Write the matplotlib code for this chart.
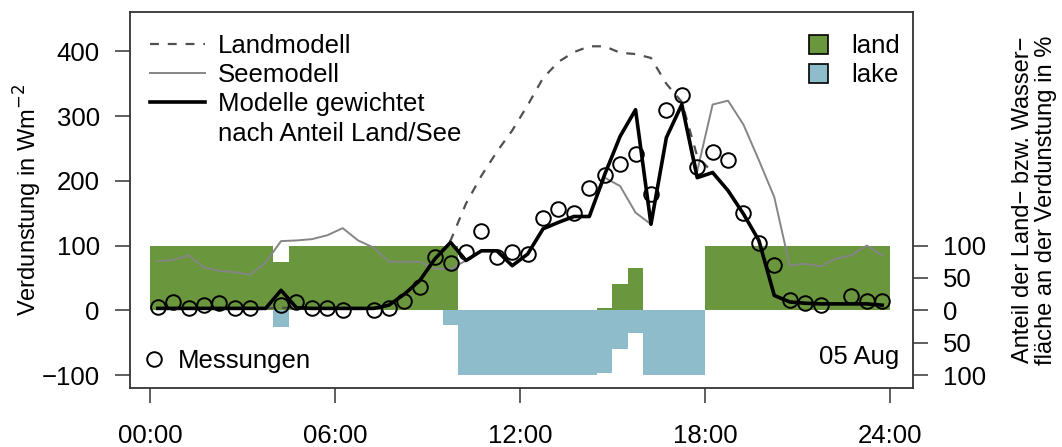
import numpy as np
import matplotlib.pyplot as plt
from matplotlib.lines import Line2D
from matplotlib.patches import Patch

plt.rcParams['font.family'] = ['Liberation Sans', 'DejaVu Sans']

# half-hourly time steps (centre of each interval, hours)
hours = np.arange(0.25, 24, 0.5)

# measured evaporation (W m-2), nan = missing
messungen = [5, 13, 3, 9, 11, 3, 3, np.nan, 8, 13, 4, 3, 1, np.nan, 1, 4,
             15, 36, 83, 73, 90, 122, 83, 90, 87, 143, 156, 150, 189, 209, 226, 242,
             180, 309, 332, 222, 244, 232, 151, 104, 70, 16, 12, 9, np.nan, 22, 14, 14]

landmodell = [3, 3, 3, 3, 3, 3, 3, 3, 4, 4, 3, 3, 3, 3, 3, 8,
              25, 46, 80, 108, 165, 208, 245, 278, 317, 359, 384, 399, 408, 408, 398, 396,
              390, 350, 322, 238, 213, 185, 149, 108, 23, 13, 11, 10, 10, 10, 10, 8]

seemodell = [76, 78, 85, 66, 61, 59, 55, 74, 107, 108, 110, 116, 127, 108, 97, 75,
             75, 75, 64, 64, 77, 92, 92, 69, 87, 126, 136, 145, 145, 205, 192, 151,
             133, 267, 318, 215, 318, 324, 287, 232, 175, 69, 72, 68, 80, 85, 100, 85]

gewichtet = [3, 3, 3, 3, 3, 3, 3, 3, 31, 4, 3, 3, 3, 3, 3, 8,
             25, 46, 80, 105, 77, 92, 92, 69, 87, 126, 136, 145, 145, 210, 269, 310,
             133, 267, 318, 205, 213, 185, 149, 108, 23, 13, 11, 10, 10, 10, 10, 8]

# share of land / lake in the evaporation footprint (%), per half hour
anteil_land = [100]*8 + [74] + [100]*11 + [0]*9 + [3, 40, 65] + [0]*4 + [100]*12
anteil_see = [0]*8 + [26] + [0]*10 + [23] + [100]*9 + [97, 60, 35] + [100]*4 + [0]*12

green = '#6a973d'
blue = '#8ebccb'
fs = 18.5   # ticks and legends
fl = 17     # axis labels

fig = plt.figure(figsize=(10.62, 4.47), dpi=100)
ax = fig.add_axes([130/1062, 1 - 388/447, 783/1062, 376/447])

left = hours - 0.25
ax.bar(left, anteil_land, width=0.5, align='edge', color=green, linewidth=0, zorder=1)
ax.bar(left, -np.array(anteil_see), width=0.5, align='edge', color=blue, linewidth=0, zorder=1)

ax.plot(hours, landmodell, color='#505050', lw=1.6, dashes=(4, 4), zorder=2)
ax.plot(hours, seemodell, color='#858585', lw=1.4, zorder=3)
ax.plot(hours, gewichtet, color='black', lw=2.6, zorder=4)
ax.plot(hours, messungen, 'o', mfc='none', mec='black', mew=1.4, ms=10.5, zorder=5)

ax.set_xlim(-0.65, 24.75)
ax.set_ylim(-120, 461)
ax.set_xticks([0, 6, 12, 18, 24])
ax.set_xticklabels(['00:00', '06:00', '12:00', '18:00', '24:00'])
ax.set_yticks([-100, 0, 100, 200, 300, 400])
ax.tick_params(axis='both', labelsize=fs, length=10.8, width=1.1, color='#333333')
ax.tick_params(axis='x', pad=15)
ax.tick_params(axis='y', pad=11)
for s in ax.spines.values():
    s.set_color('#333333')
    s.set_linewidth(1.3)

ax.set_ylabel('Verdunstung in Wm$^{-2}$', fontsize=fl)
ax.yaxis.set_label_coords(-0.110, 0.5)

ax2 = ax.twinx()
ax2.set_ylim(ax.get_ylim())
ax2.set_yticks([-100, -50, 0, 50, 100])
ax2.set_yticklabels(['100', '50', '0', '50', '100'])
ax2.tick_params(axis='y', labelsize=fs, length=10.8, width=1.1, color='#333333', pad=10.5)
for s in ax2.spines.values():
    s.set_visible(False)
ax2.set_ylabel('Anteil der Land\u2212 bzw. Wasser\u2212\nfläche an der Verdunstung in %',
               fontsize=fl, linespacing=1.05)
ax2.yaxis.set_label_coords(1.127, 0.5)

# legends
h1 = [Line2D([], [], color='#505050', lw=1.6, dashes=(4, 4)),
      Line2D([], [], color='#858585', lw=1.4),
      Line2D([], [], color='black', lw=2.6),
      Line2D([], [], color='none')]
lab1 = ['Landmodell', 'Seemodell', 'Modelle gewichtet', 'nach Anteil Land/See']
leg1 = ax.legend(h1, lab1, loc='upper left', bbox_to_anchor=(20/783, 0.941),
                 frameon=False, fontsize=fs, handlelength=2.15, handletextpad=0.5,
                 labelspacing=0.2, borderpad=0, borderaxespad=0)
ax.add_artist(leg1)

h2 = [Patch(facecolor=green, edgecolor='black', lw=1.2),
      Patch(facecolor=blue, edgecolor='black', lw=1.2)]
leg2 = ax.legend(h2, ['land', 'lake'], loc='upper right', bbox_to_anchor=(0.983, 0.941),
                 frameon=False, fontsize=fs, handlelength=0.75, handleheight=0.75,
                 handletextpad=0.9, labelspacing=0.2, borderpad=0, borderaxespad=0)
ax.add_artist(leg2)

h3 = [Line2D([], [], marker='o', ls='none', mfc='none', mec='black', mew=1.4, ms=10.5)]
ax.legend(h3, ['Messungen'], loc='lower left', bbox_to_anchor=(14/783, 0.04),
          frameon=False, fontsize=fs, handlelength=0.8, handletextpad=0.5,
          borderpad=0, borderaxespad=0)

ax.text(0.983, (388 - 357)/376, '05 Aug', transform=ax.transAxes, ha='right',
        va='center', fontsize=fs)

fig.savefig('out.png', dpi=100)
